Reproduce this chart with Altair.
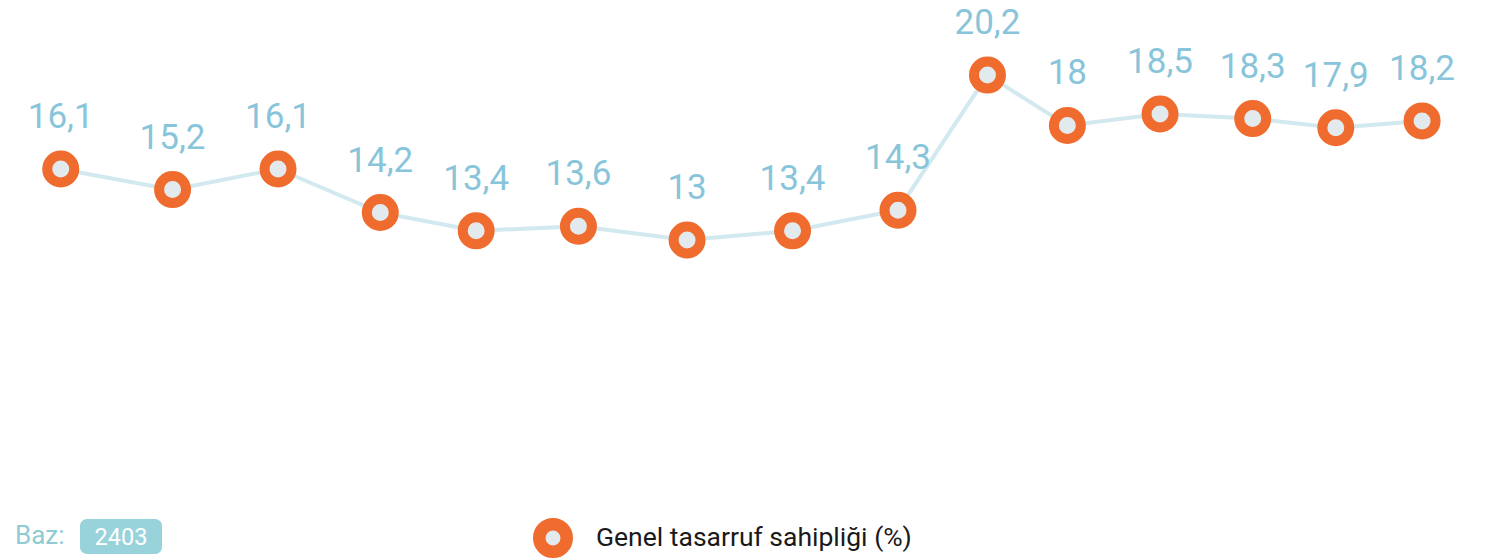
import altair as alt
import pandas as pd

# Survey dates (x), values (%), and their printed labels
tarih = ["2022-01-15", "2022-02-19", "2022-03-24", "2022-04-25", "2022-05-25",
         "2022-06-26", "2022-07-30", "2022-09-01", "2022-10-04", "2022-11-01",
         "2022-11-26", "2022-12-25", "2023-01-23", "2023-02-18", "2023-03-17"]
deger = [16.1, 15.2, 16.1, 14.2, 13.4, 13.6, 13.0, 13.4, 14.3, 20.2,
         18.0, 18.5, 18.3, 17.9, 18.2]
etiket = ["16,1", "15,2", "16,1", "14,2", "13,4", "13,6", "13", "13,4", "14,3",
          "20,2", "18", "18,5", "18,3", "17,9", "18,2"]
seri = "Genel tasarruf sahipliği (%)"
baz_label = "Baz:"
baz_value = "2403"

ORANGE = "#ef6b2e"
INNER = "#e3eaed"
LINE = "#d3e9f0"
LABEL = "#88c5da"
FONT = "Roboto"

df = pd.DataFrame({"tarih": tarih, "deger": deger, "etiket": etiket,
                   "seri": [seri] * len(tarih)})
ann = pd.DataFrame({"baz": [baz_label], "n": [baz_value]})

x_enc = alt.X(
    "tarih:T", axis=None,
    scale=alt.Scale(
        domain=[alt.DateTime(year=2021, month=12, date=29, hours=12, utc=True),
                alt.DateTime(year=2023, month=4, date=3, hours=12, utc=True)],
        nice=False),
)
y_enc = alt.Y("deger:Q", axis=None,
              scale=alt.Scale(domain=[-0.886, 23.13], nice=False, zero=False))

base = alt.Chart(df).encode(x=x_enc, y=y_enc)

line = base.mark_line(color=LINE, strokeWidth=4)

points = base.mark_point(
    shape="circle", filled=True, fill=INNER, size=729, strokeWidth=10,
    opacity=1, fillOpacity=1, strokeOpacity=1,
).encode(
    stroke=alt.Stroke(
        "seri:N",
        scale=alt.Scale(range=[ORANGE]),
        legend=alt.Legend(
            title=None, orient="none", legendX=525, legendY=510,
            symbolType="circle", symbolSize=756, symbolStrokeWidth=12.5,
            symbolFillColor=INNER, labelFont=FONT, labelFontSize=26.5,
            labelColor="#1a1a1a", labelLimit=0, labelOffset=23, padding=0,
        ),
    )
)

labels = base.mark_text(
    dy=-52, fontSize=35, font=FONT, color=LABEL, baseline="middle", align="center"
).encode(text="etiket:N")

baz_text = alt.Chart(ann).mark_text(
    align="left", baseline="middle", fontSize=26, font=FONT, color="#8fcbd3"
).encode(x=alt.value(7), y=alt.value(528), text="baz:N")

badge = alt.Chart(ann).mark_rect(
    color="#98d3dc", cornerRadius=7
).encode(x=alt.value(72), x2=alt.value(154), y=alt.value(511), y2=alt.value(546))

badge_text = alt.Chart(ann).mark_text(
    align="center", baseline="middle", fontSize=23.5, font=FONT, color="white"
).encode(x=alt.value(113), y=alt.value(530), text="n:N")

chart = alt.layer(line, points, labels, badge, baz_text, badge_text).properties(
    width=1470, height=550, padding=0,
    autosize=alt.AutoSizeParams(type="none"),
    background="white",
).configure_view(stroke=None)

chart.save("out.html", embed_options={"renderer": "svg", "actions": False})
